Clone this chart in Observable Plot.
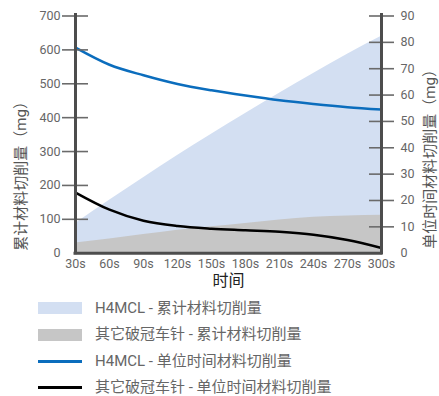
<!DOCTYPE html>
<html><head><meta charset="utf-8">
<script src="https://cdn.jsdelivr.net/npm/d3@7"></script>
<script src="https://cdn.jsdelivr.net/npm/@observablehq/plot@0.6"></script>
<style>
body{margin:0;background:#fff;font-family:Roboto,"Noto Sans CJK SC",sans-serif;overflow:hidden}
#legend{padding-top:5px}
.row{display:flex;align-items:center;height:26.5px}
.sw{margin-left:38px;width:44px;margin-right:13px}
.lab{font-size:15px;line-height:17px;color:#666;white-space:nowrap}
</style></head><body><div id="chart"></div><div id="legend"></div>
<script>
const times = [30, 60, 90, 120, 150, 180, 210, 240, 270, 300];
const timeLabels = ["30s", "60s", "90s", "120s", "150s", "180s", "210s", "240s", "270s", "300s"];
const h4mclCumulative = [88, 156, 223, 288, 351, 412, 472, 530, 587, 640];
const otherCumulative = [30, 42, 55, 68, 78, 88, 98, 106, 110, 112];
const h4mclRate = [78, 71.5, 67.5, 64.2, 61.8, 59.8, 58, 56.6, 55.4, 54.5];
const otherRate = [23, 16.5, 12.3, 10.3, 9.3, 8.7, 8.1, 7.0, 5.0, 2.0];
const leftTicks = [0, 100, 200, 300, 400, 500, 600, 700];
const rightTicks = [0, 10, 20, 30, 40, 50, 60, 70, 80, 90];
const leftTitle = "累计材料切削量（mg）";
const rightTitle = "单位时间材料切削量（mg）";
const xTitle = "时间";
const seriesNames = ["H4MCL - 累计材料切削量", "其它破冠车针 - 累计材料切削量", "H4MCL - 单位时间材料切削量", "其它破冠车针 - 单位时间材料切削量"];
const seriesColors = ["#d3dff2", "#c6c6c6", "#0b6dbd", "#000000"];

const K = 700 / 90; // right axis (0-90) mapped onto left axis (0-700)
const rows = times.map((t, i) => ({t, a: h4mclCumulative[i], b: otherCumulative[i], c: h4mclRate[i], d: otherRate[i]}));
const curve = "monotone-x";
const axisColor = "#4d4d4d";

const plot = Plot.plot({
  width: 439, height: 290,
  marginLeft: 75, marginRight: 58, marginTop: 13, marginBottom: 37.3,
  x: {domain: [30, 300]},
  y: {domain: [0, 700], insetTop: 2.5},
  style: {fontFamily: 'Roboto, "Noto Sans CJK SC", sans-serif', fontSize: "12.5px", color: "#666", background: "#fff"},
  marks: [
    Plot.areaY(rows, {x: "t", y: "a", fill: seriesColors[0], curve}),
    Plot.areaY(rows, {x: "t", y: "b", fill: seriesColors[1], curve}),
    Plot.lineY(rows, {x: "t", y: d => d.c * K, stroke: seriesColors[2], strokeWidth: 2.5, curve}),
    Plot.lineY(rows, {x: "t", y: d => d.d * K, stroke: seriesColors[3], strokeWidth: 2.5, curve}),
    Plot.axisX(times, {tickSize: 0, tickPadding: 6, tickFormat: d => timeLabels[times.indexOf(d)], label: null, fill: "#666"}),
    Plot.axisY(leftTicks, {anchor: "left", tickSize: 0, tickPadding: 15, label: null, fill: "#666"}),
    Plot.axisY(leftTicks.slice(1), {anchor: "left", tickSize: 26, dx: 13, tickFormat: () => "", label: null, stroke: "#6a6a6a", strokeWidth: 1.6}),
    Plot.axisY(rightTicks.map(v => v * K), {anchor: "right", tickSize: 0, tickPadding: 19, tickFormat: d => rightTicks[Math.round(d / K / 10)], label: null, fill: "#666"}),
    Plot.axisY(rightTicks.slice(1).map(v => v * K), {anchor: "right", tickSize: 25, dx: -13, tickFormat: () => "", label: null, stroke: "#6a6a6a", strokeWidth: 1.6}),
    Plot.ruleX([30, 300], {stroke: axisColor, strokeWidth: 3, insetBottom: -1.5}),
    Plot.ruleY([0], {stroke: axisColor, strokeWidth: 3, insetLeft: -1.5, insetRight: -1.5}),
    Plot.text([leftTitle], {text: d => d, frameAnchor: "left", textAnchor: "middle", lineAnchor: "middle", dx: -54.5, dy: 39, rotate: -90, fontSize: 15, fill: "#555"}),
    Plot.text([rightTitle], {text: d => d, frameAnchor: "right", textAnchor: "middle", lineAnchor: "middle", dx: 49, dy: 22, rotate: -90, fontSize: 15, fill: "#555"}),
    Plot.text([xTitle], {text: d => d, frameAnchor: "bottom", textAnchor: "middle", lineAnchor: "middle", dy: 27.3, fontSize: 16, fill: "#222"})
  ]
});
document.getElementById("chart").appendChild(plot);

const legend = document.getElementById("legend");
seriesNames.forEach((name, i) => {
  const row = document.createElement("div");
  row.className = "row";
  const sw = document.createElement("div");
  sw.className = "sw";
  sw.style.height = i < 2 ? "12px" : "3px";
  sw.style.background = seriesColors[i];
  const lab = document.createElement("span");
  lab.className = "lab";
  lab.textContent = name;
  row.appendChild(sw);
  row.appendChild(lab);
  legend.appendChild(row);
});
</script></body></html>
